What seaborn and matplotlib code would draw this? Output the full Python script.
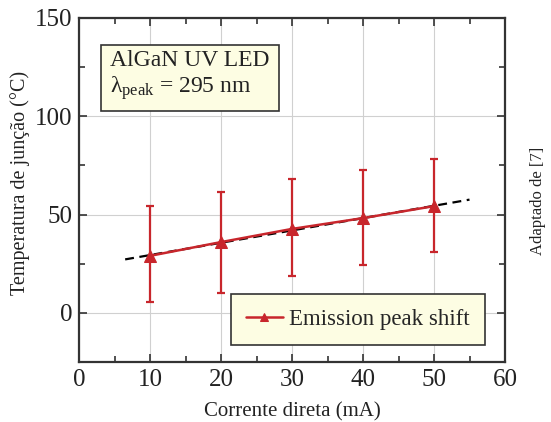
import numpy as np
import pandas as pd
import matplotlib
matplotlib.use("Agg")
import matplotlib.pyplot as plt
import seaborn as sns

# Data
current_mA = [10, 20, 30, 40, 50]
temp_C = [29.0, 36.0, 42.7, 48.2, 54.3]
err_low = [23.6, 26.0, 24.0, 23.8, 23.4]
err_high = [25.5, 25.7, 25.5, 24.5, 24.0]
fit_x = [6.5, 55.0]
fit_y = [27.2, 57.6]

x_ticks = [0, 10, 20, 30, 40, 50, 60]
y_ticks = [0, 50, 100, 150]

sns.set_style("ticks")
plt.rcParams['font.family'] = ['Liberation Serif', 'DejaVu Serif']
plt.rcParams['mathtext.fontset'] = 'custom'
plt.rcParams['mathtext.rm'] = 'Liberation Serif'
plt.rcParams['mathtext.it'] = 'Liberation Serif'

red = "#c8262c"
df = pd.DataFrame({"x": current_mA, "y": temp_C})

fig = plt.figure(figsize=(5.51, 4.22), dpi=100)
ax = fig.add_axes([79/551, 60/422, (505-79)/551, (362-18)/422])

ax.grid(True, color="#d0d0d0", linewidth=0.8)
ax.set_axisbelow(True)

ax.errorbar(current_mA, temp_C, yerr=[err_low, err_high], fmt="none",
            ecolor=red, elinewidth=1.6, capsize=3, capthick=1.6, zorder=3)
ax.plot(fit_x, fit_y, linestyle=(0, (4, 2.5)), color="black", linewidth=1.6, zorder=4)
sns.lineplot(data=df, x="x", y="y", ax=ax, color=red, marker="^", markersize=8,
             markeredgecolor=red, linewidth=1.8, label="Emission peak shift", zorder=5)

ax.set_xlim(0, 60)
ax.set_ylim(-25, 150)
ax.set_xticks(x_ticks)
ax.set_yticks(y_ticks)
ax.set_xticks([5, 15, 25, 35, 45, 55], minor=True)
ax.set_yticks([-25, 25, 75, 125], minor=True)
ax.tick_params(which="both", direction="in", top=True, right=True, labelsize=18,
               width=1.2, colors="#333333", labelcolor="#222222")
ax.tick_params(which="major", length=6, pad=5)
ax.tick_params(which="minor", length=4)
for s in ax.spines.values():
    s.set_linewidth(1.6)
    s.set_color("#333333")

ax.set_xlabel("Corrente direta (mA)", fontsize=15, color="#222222", labelpad=8)
ax.set_ylabel("Temperatura de junção (°C)", fontsize=14.5, color="#222222")
ax.yaxis.set_label_coords((30 - 79) / 426, (362 - 183) / 344)

leg = ax.legend(loc="lower right", bbox_to_anchor=(485/551, 77/422),
                bbox_transform=fig.transFigure, fontsize=16.5, frameon=True,
                fancybox=False, handlelength=1.6, handletextpad=0.3,
                borderpad=0.65, borderaxespad=0, markerscale=0.8)
leg.get_frame().set_facecolor("#fdfde3")
leg.get_frame().set_edgecolor("#333333")
leg.get_frame().set_linewidth(1.2)
leg.get_frame().set_alpha(1)

fig.text(110/551, 1 - 76/422, "AlGaN UV LED\n$\\lambda_{\\mathrm{peak}}$ = 295 nm",
         fontsize=17, color="#222222", va="center", ha="left", linespacing=1.15,
         bbox=dict(boxstyle="square,pad=0.4", facecolor="#fdfde3", edgecolor="#333333",
                   linewidth=1.2))

fig.text(538/551, 1 - 201/422, "Adaptado de [7]", rotation=90, fontsize=12,
         color="#222222", ha="center", va="center")

fig.savefig("out.png", dpi=100)
